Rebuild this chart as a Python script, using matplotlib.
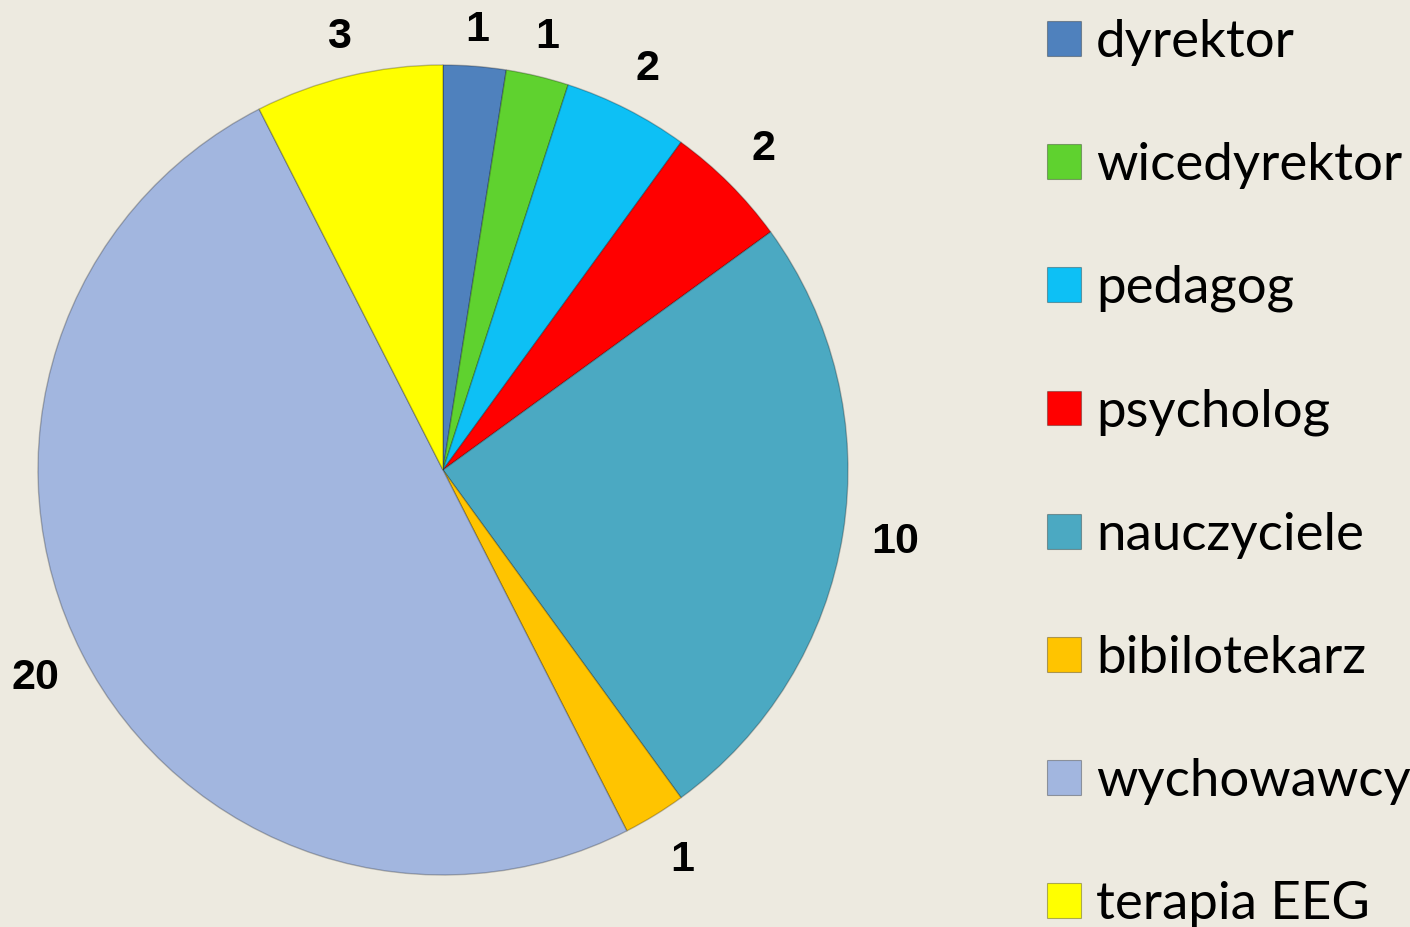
import numpy as np
import matplotlib.pyplot as plt
from matplotlib.patches import Rectangle

# data
categories = ["dyrektor", "wicedyrektor", "pedagog", "psycholog",
              "nauczyciele", "bibilotekarz", "wychowawcy", "terapia EEG"]
counts = [1, 1, 2, 2, 10, 1, 20, 3]
colors = ["#4F81BD", "#5FD22F", "#0DC0F5", "#FF0000",
          "#4BA9C2", "#FFC400", "#A2B6DF", "#FFFF00"]
# how far out each value label sits (in pie radii)
label_dist = [1.09, 1.10, 1.11, 1.12, 1.13, 1.13, 1.13, 1.10]

bg = "#EDEAE0"

fig = plt.figure(figsize=(14.1, 9.27), dpi=100, facecolor=bg)

# pie axes: centre ~ (443, 470) px, radius ~ 405 px
W, H = 1410, 927
cx, cy, r = 443, 470, 405
ax = fig.add_axes([(cx - r) / W, (H - cy - r) / H, 2 * r / W, 2 * r / H])
ax.set_facecolor(bg)

wedges, texts = ax.pie(
    counts, colors=colors, startangle=90, counterclock=False,
    labels=[str(c) for c in counts], labeldistance=1.12,
    wedgeprops=dict(edgecolor=(0, 0, 0, 0.25), linewidth=1.0),
    textprops=dict(fontsize=31, fontweight="bold", family="Liberation Sans",
                   color="black", ha="center", va="center"),
)
for w, t, d in zip(wedges, texts, label_dist):
    ang = np.deg2rad((w.theta1 + w.theta2) / 2)
    t.set_position((d * np.cos(ang), d * np.sin(ang)))

ax.set_xlim(-1, 1)
ax.set_ylim(-1, 1)
ax.axis("off")

# legend with square markers
handles = [Rectangle((0, 0), 1, 1, facecolor=c, edgecolor=(0, 0, 0, 0.3), linewidth=0.8)
           for c in colors]
leg = fig.legend(handles, categories, loc="upper left",
                 bbox_to_anchor=(1047 / W, 1 - 19 / H),
                 frameon=False, prop=dict(family="Lato", size=38),
                 handlelength=0.64, handleheight=0.64, handletextpad=0.29,
                 labelspacing=1.44, borderpad=0, borderaxespad=0)

fig.savefig("out.png", dpi=100, facecolor=bg)
